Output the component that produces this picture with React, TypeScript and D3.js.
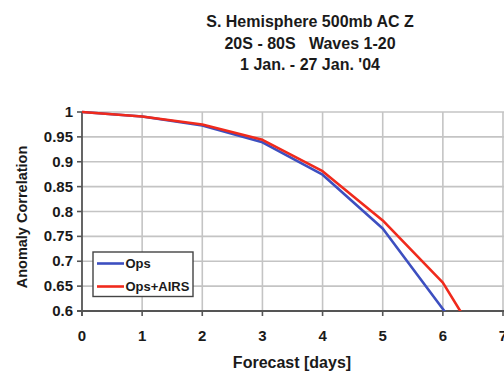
import React from "react";
import * as d3 from "d3";

const days = [0, 1, 2, 3, 4, 5, 6, 7];
const opsValues = [1.0, 0.991, 0.973, 0.939, 0.874, 0.766, 0.604, 0.44];
const airsValues = [1.0, 0.991, 0.975, 0.944, 0.881, 0.782, 0.657, 0.46];
const xTicks = [0, 1, 2, 3, 4, 5, 6, 7];
const yTicks = [0.6, 0.65, 0.7, 0.75, 0.8, 0.85, 0.9, 0.95, 1];
const titleLines = ["S. Hemisphere 500mb AC Z", "20S - 80S   Waves 1-20", "1 Jan. - 27 Jan. '04"];
const seriesNames = ["Ops", "Ops+AIRS"];
const seriesColors = ["#3d4fc0", "#f02a1c"];

const W = 504;
const H = 372;
const left = 82;
const right = 503;
const top = 112;
const bottom = 311;

export default function App() {
  const x = d3.scaleLinear().domain([0, 7]).range([left, right]);
  const y = d3.scaleLinear().domain([0.6, 1]).range([bottom, top]);
  const line = d3
    .line<number>()
    .x((_, i) => x(days[i]))
    .y((d) => y(d));
  const series = [opsValues, airsValues];
  const font = "'Liberation Sans', Arial, sans-serif";

  return (
    <svg
      width={W}
      height={H}
      style={{ position: "absolute", left: 0, top: 0, background: "#fff" }}
      fontFamily={font}
      fontWeight="bold"
    >
      <defs>
        <clipPath id="plot">
          <rect x={left} y={top - 5} width={W - left} height={bottom - top + 5} />
        </clipPath>
      </defs>
      {titleLines.map((t, i) => (
        <text
          key={i}
          x={310}
          y={27 + i * 21.5}
          textAnchor="middle"
          fontSize={16}
          fill="#1a1a1a"
          style={{ whiteSpace: "pre" }}
        >
          {t}
        </text>
      ))}
      {/* gridlines */}
      {yTicks.slice(1).map((v) => (
        <line key={"h" + v} x1={left} x2={W} y1={y(v)} y2={y(v)} stroke="#c4c4c4" strokeWidth={1.6} />
      ))}
      {xTicks.slice(1).map((v) => (
        <line key={"v" + v} x1={x(v)} x2={x(v)} y1={top} y2={bottom} stroke="#c4c4c4" strokeWidth={1.6} />
      ))}
      {/* axes */}
      <line x1={left} x2={left} y1={top} y2={bottom + 5} stroke="#555" strokeWidth={1.8} />
      <line x1={left - 5} x2={W} y1={bottom} y2={bottom} stroke="#555" strokeWidth={1.8} />
      {yTicks.map((v) => (
        <g key={"yt" + v}>
          <line x1={left - 5} x2={left} y1={y(v)} y2={y(v)} stroke="#555" strokeWidth={1.6} />
          <text x={left - 9} y={y(v) + 5} textAnchor="end" fontSize={15} fill="#1a1a1a">
            {String(v)}
          </text>
        </g>
      ))}
      {xTicks.map((v) => (
        <g key={"xt" + v}>
          <line x1={x(v)} x2={x(v)} y1={bottom} y2={bottom + 5} stroke="#555" strokeWidth={1.6} />
          <text x={x(v)} y={341} textAnchor="middle" fontSize={15} fill="#1a1a1a">
            {String(v)}
          </text>
        </g>
      ))}
      {/* series */}
      <g clipPath="url(#plot)">
        {series.map((s, i) => (
          <path key={i} d={line(s) || ""} fill="none" stroke={seriesColors[i]} strokeWidth={2.6} strokeLinejoin="round" />
        ))}
      </g>
      {/* axis titles */}
      <text x={292} y={368} textAnchor="middle" fontSize={16} fill="#1a1a1a">
        Forecast [days]
      </text>
      <text
        transform={`translate(27,217) rotate(-90)`}
        textAnchor="middle"
        fontSize={14.5}
        fill="#1a1a1a"
      >
        Anomaly Correlation
      </text>
      {/* legend */}
      <rect x={93} y={252} width={100} height={44.5} fill="#fff" stroke="#444" strokeWidth={1.4} />
      {seriesNames.map((n, i) => (
        <g key={n}>
          <line x1={97} x2={124} y1={263.5 + i * 23} y2={263.5 + i * 23} stroke={seriesColors[i]} strokeWidth={2.6} />
          <text x={125.5} y={268 + i * 23} fontSize={13} fill="#1a1a1a">
            {n}
          </text>
        </g>
      ))}
    </svg>
  );
}
